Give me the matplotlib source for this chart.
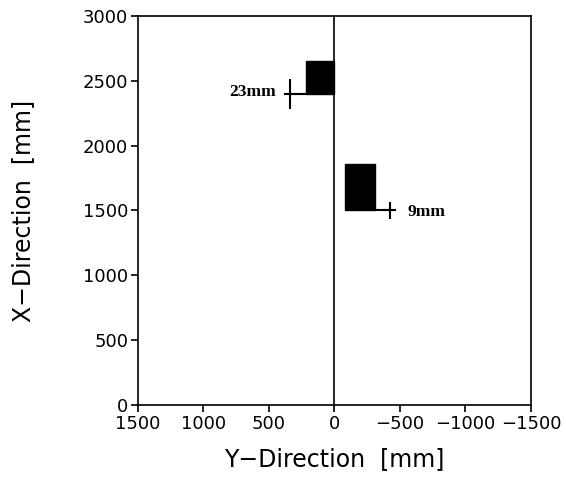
import matplotlib
matplotlib.use("Agg")
import matplotlib.pyplot as plt
from matplotlib.patches import Rectangle

# black blocks: (y-dir left, y-dir right, x-dir bottom, x-dir top) in mm
BlockSpans = [(220, 0, 2400, 2650), (-80, -310, 1500, 1860)]
# crosses: position, vertical error, label
CrossY = [340, -425]
CrossX = [2400, 1500]
CrossErr = [115, 65]
CrossLabels = ["23mm", "9mm"]
# corner of the block the cross is tied to
CornerY = [220, -310]

XTicks = [1500, 1000, 500, 0, -500, -1000, -1500]
YTicks = [0, 500, 1000, 1500, 2000, 2500, 3000]

fig = plt.figure(figsize=(5.66, 4.83), dpi=100)
ax = fig.add_axes([0.2438, 0.1615, 0.6943, 0.8055])

for y0, y1, x0, x1 in BlockSpans:
    ax.add_patch(Rectangle((min(y0, y1), x0), abs(y1 - y0), x1 - x0,
                           facecolor="black", edgecolor="black"))

ax.axvline(0, color="black", lw=1.2)

for i in range(len(CrossY)):
    ax.plot([CrossY[i], CornerY[i]], [CrossX[i], CrossX[i]], color="black", lw=1.5)
    ax.errorbar(CrossY[i], CrossX[i], yerr=CrossErr[i], color="black",
                lw=1.5, capsize=0)
    ax.plot([CrossY[i] + 40, CrossY[i] - 40], [CrossX[i], CrossX[i]],
            color="black", lw=1.5)

ax.text(CrossY[0] + 105, CrossX[0] + 10, CrossLabels[0], ha="right", va="center",
        family="Liberation Serif", fontweight="bold", fontsize=12.5)
ax.text(CrossY[1] - 130, CrossX[1] - 15, CrossLabels[1], ha="left", va="center",
        family="Liberation Serif", fontweight="bold", fontsize=12.5)

ax.set_xlim(1500, -1500)
ax.set_ylim(0, 3000)
ax.set_xticks(XTicks)
ax.set_yticks(YTicks)
ax.tick_params(direction="out", length=5, width=1.2, labelsize=13, pad=2)
for s in ax.spines.values():
    s.set_linewidth(1.2)

ax.set_xlabel("Y\u2212Direction  [mm]", fontsize=17, labelpad=10)
ax.set_ylabel("X\u2212Direction  [mm]", fontsize=17, labelpad=34)

fig.savefig("out.png", dpi=100)
